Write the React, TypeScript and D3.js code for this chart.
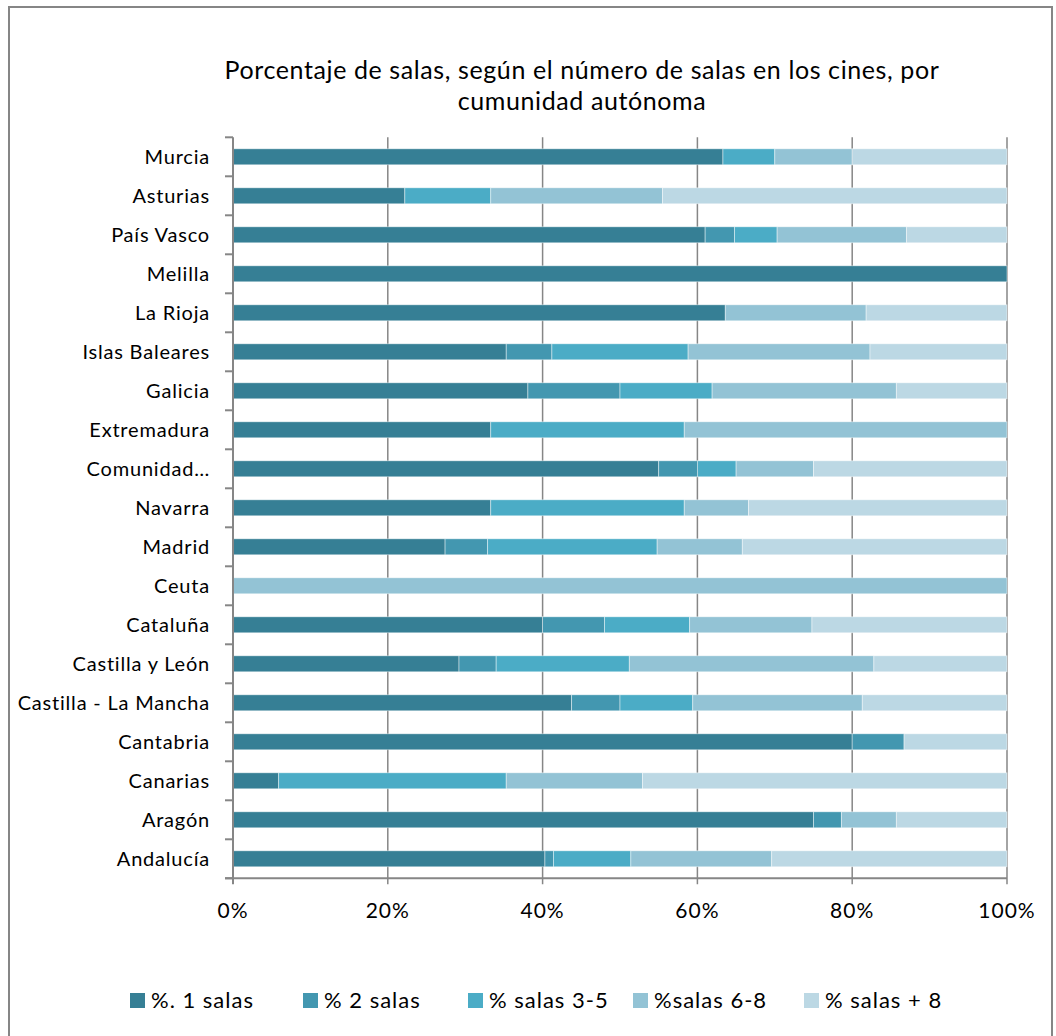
import React from "react";
import * as d3 from "d3";

const categories = [
  "Murcia", "Asturias", "País Vasco", "Melilla", "La Rioja", "Islas Baleares",
  "Galicia", "Extremadura", "Comunidad…", "Navarra", "Madrid", "Ceuta",
  "Cataluña", "Castilla y León", "Castilla - La Mancha", "Cantabria",
  "Canarias", "Aragón", "Andalucía",
];

const seriesNames = ["%. 1 salas", "% 2 salas", "% salas 3-5", "%salas 6-8", "% salas + 8"];
const seriesColors = ["#367F95", "#4397B0", "#4BACC6", "#93C3D5", "#BCD8E4"];

const sala1 = [63.3, 22.2, 61.0, 100, 63.6, 35.3, 38.1, 33.3, 55.0, 33.3, 27.4, 0, 40.0, 29.2, 43.75, 80.0, 5.9, 75.0, 40.3];
const sala2 = [0, 0, 3.8, 0, 0, 5.9, 11.9, 0, 5.0, 0, 5.5, 0, 8.0, 4.8, 6.25, 6.7, 0, 3.6, 1.1];
const sala3_5 = [6.7, 11.1, 5.5, 0, 0, 17.6, 11.9, 25.0, 5.0, 25.0, 21.9, 0, 11.0, 17.2, 9.4, 0, 29.4, 0, 10.0];
const sala6_8 = [10.0, 22.2, 16.7, 0, 18.2, 23.5, 23.8, 41.7, 10.0, 8.3, 11.0, 100, 15.8, 31.6, 21.9, 0, 17.6, 7.1, 18.2];
const salaMas8 = [20.0, 44.5, 13.0, 0, 18.2, 17.7, 14.3, 0, 25.0, 33.4, 34.2, 0, 25.2, 17.2, 18.7, 13.3, 47.1, 14.3, 30.4];

const xTicks = [0, 20, 40, 60, 80, 100];
const titleLines = ["Porcentaje de salas, según el número de salas en los cines, por", "cumunidad autónoma"];

const FONT = "Lato, 'Open Sans', sans-serif";

export default function App() {
  const W = 1056, H = 1036;
  const left = 233, right = 1007, top = 137.3, bottom = 878.3;

  const rows = categories.map((c, i) => ({
    cat: c,
    s0: sala1[i], s1: sala2[i], s2: sala3_5[i], s3: sala6_8[i], s4: salaMas8[i],
  }));
  const keys = ["s0", "s1", "s2", "s3", "s4"];
  const stacked = d3.stack<any>().keys(keys).offset(d3.stackOffsetExpand)(rows);

  const x = d3.scaleLinear().domain([0, 1]).range([left, right]);
  const y = d3.scaleBand<string>().domain(categories).range([top, bottom]).paddingInner(0.59).paddingOuter(0.295);
  const step = y.step();

  const legendX = [130, 303, 468, 633, 804];

  return (
    <svg width={W} height={H} style={{ display: "block", position: "absolute", left: 0, top: 0 }} fontFamily={FONT}>
      <rect x={0} y={0} width={W} height={H} fill="#fff" />
      <rect x={9} y={7} width={1043} height={1040} fill="#fff" stroke="#868686" strokeWidth={2} />
      <text x={582} y={0} textAnchor="middle" fontSize={25} letterSpacing={0.6} fill="#000">
        {titleLines.map((l, i) => (
          <tspan key={i} x={582} y={79 + i * 31}>{l}</tspan>
        ))}
      </text>

      {/* gridlines */}
      {xTicks.slice(1).map((t) => (
        <line key={t} x1={x(t / 100)} x2={x(t / 100)} y1={top} y2={bottom + 6} stroke="#868686" strokeWidth={1.5} />
      ))}

      {/* bars */}
      {stacked.map((layer, li) => (
        <g key={li}>
          {layer.map((d: any, i: number) => {
            const w = x(d[1]) - x(d[0]);
            if (w <= 0.01) return null;
            return (
              <rect key={i} x={x(d[0])} y={y(categories[i])} width={w} height={y.bandwidth()}
                fill={seriesColors[li]} stroke="#ffffff" strokeOpacity={0.55} strokeWidth={0.8} />
            );
          })}
        </g>
      ))}

      {/* axes */}
      <line x1={left} x2={left} y1={top} y2={bottom + 6} stroke="#868686" strokeWidth={2} />
      <line x1={left - 8} x2={right} y1={bottom} y2={bottom} stroke="#868686" strokeWidth={2} />
      {d3.range(categories.length + 1).map((i) => (
        <line key={i} x1={left - 8} x2={left} y1={top + i * step} y2={top + i * step} stroke="#868686" strokeWidth={2} />
      ))}

      {/* category labels */}
      {categories.map((c) => (
        <text key={c} x={210} y={(y(c) as number) + y.bandwidth() / 2} dy="0.35em" textAnchor="end" fontSize={20} letterSpacing={0.8} fill="#000">{c}</text>
      ))}

      {/* x tick labels */}
      {xTicks.map((t) => (
        <text key={t} x={x(t / 100)} y={911} dy="0.35em" textAnchor="middle" fontSize={21} letterSpacing={1} fill="#000">{t}%</text>
      ))}

      {/* legend */}
      {seriesNames.map((n, i) => (
        <g key={n}>
          <rect x={legendX[i]} y={993} width={15} height={15} fill={seriesColors[i]} />
          <text x={legendX[i] + 21} y={1000.5} dy="0.35em" fontSize={22} letterSpacing={1} fill="#000">{n}</text>
        </g>
      ))}
    </svg>
  );
}
